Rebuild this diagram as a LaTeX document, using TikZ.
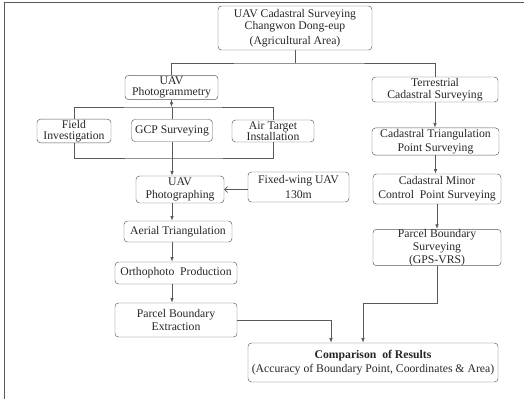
\documentclass[tikz,border=0pt]{standalone}
\usepackage{fontspec}
\setmainfont{Liberation Serif}
\usetikzlibrary{arrows.meta,positioning}
\tikzset{
  box/.style={draw=black!65, rounded corners=3pt, align=center, inner xsep=2pt, inner ysep=1pt, text=black!85},
  line/.style={draw=black!65, line width=0.6pt},
  arr/.style={line, -{Latex[length=4pt,width=3pt]}},
  arrb/.style={line, -{Straight Barb[length=2.5pt,width=5pt]}}
}

\begin{document}
\begin{tikzpicture}[x=0.03cm, y=-0.03cm]
    \useasboundingbox (0,0) rectangle (524,399);
    % frame
    \draw[line] (4,399) -- (4,2) -- (524,2);

    \node(top)[box, minimum width=4.62cm, minimum height=1.32cm] at (295,28)
        {UAV Cadastral Surveying\\[-2pt]Changwon Dong-eup\\[1pt](Agricultural Area)};
    \node(photo)[box, minimum width=2.79cm, minimum height=0.63cm] at (171.5,87.5)
        {UAV\\[-2pt]Photogrammetry};
    \node(terr)[box, minimum width=3.78cm, minimum height=0.75cm] at (435,89.5)
        {Terrestrial\\[-2pt]Cadastral Surveying};

    \node(field)[box, minimum width=2.22cm, minimum height=0.66cm] at (74,131)
        {Field\\[-3pt]Investigation};
    \node(gcp)[box, minimum width=2.43cm, minimum height=0.66cm] at (172,130.5)
        {GCP Surveying};
    \node(air)[box, minimum width=2.46cm, minimum height=0.66cm] at (273,131)
        {Air Target\\[-3pt]Installation};

    \node(uavph)[box, minimum width=2.64cm, minimum height=0.81cm] at (180,189.5)
        {UAV\\[-1pt]Photographing};
    \node(fixed)[box, minimum width=3.03cm, minimum height=0.9cm] at (298.5,187)
        {Fixed-wing UAV\\130m};
    \node(aerial)[box, minimum width=3.24cm, minimum height=0.63cm] at (178,231.5)
        {Aerial Triangulation};
    \node(ortho)[box, minimum width=3.66cm, minimum height=0.66cm] at (176,273)
        {Orthophoto\ \ Production};
    \node(extract)[box, minimum width=3.66cm, minimum height=1.02cm] at (176,320)
        {Parcel Boundary\\[-1pt]Extraction};

    \node(tri)[box, minimum width=3.81cm, minimum height=0.81cm] at (435.5,141.5)
        {Cadastral Triangulation\\Point Surveying};
    \node(minor)[box, minimum width=3.84cm, minimum height=0.9cm] at (437,189)
        {Cadastral Minor\\Control\ \ Point Surveying};
    \node(gps)[box, minimum width=3.84cm, minimum height=1.05cm, inner ysep=0pt] at (437,247.5)
        {Parcel Boundary\\[-1pt]Surveying\\[-1pt](GPS-VRS)};

    \node(comp)[box, minimum width=7.5cm, minimum height=1.17cm] at (373,362.5)
        {\textbf{Comparison\ \ of Results}\\(Accuracy of Boundary Point, Coordinates \& Area)};

    % left branch
    \coordinate(c1) at (295,63);
    \draw[line] (top.south) -- (c1);
    \draw[line] (photo.north) |- (c1) -| (terr.north);

    \coordinate(c2) at (172,107);
    \draw[arr] (photo.south) -- (photo.south |- c2);
    \draw[line] (field.north) |- (c2) -| (air.north);
    \draw[line] (c2) -- (gcp.north);

    \coordinate(c3) at (174,158);
    \draw[line] (field.south) |- (c3) -| (air.south);
    \draw[arr] (gcp.south) -- (gcp.south |- uavph.north);
    \draw[arrb] (fixed.west |- uavph.east) -- (uavph.east);

    \draw[arr] (uavph.south -| gcp.south) -- (aerial.north -| gcp.south);
    \draw[arr] (aerial.south -| gcp.south) -- (ortho.north -| gcp.south);
    \draw[arr] (ortho.south -| gcp.south) -- (extract.north -| gcp.south);

    % right branch
    \draw[arr] (terr.south) -- (terr.south |- tri.north);
    \draw[arr] (tri.south) -- (tri.south |- minor.north);
    \draw[arr] (minor.south) -- (gps.north);

    % results
    \coordinate(c4) at (363,303);
    \draw[arr] (gps.south) |- (c4) -- (c4 |- comp.north);
    \coordinate(c5) at (331,320);
    \draw[arr] (extract.east) -| (c5 |- comp.north);
\end{tikzpicture}
\end{document}
